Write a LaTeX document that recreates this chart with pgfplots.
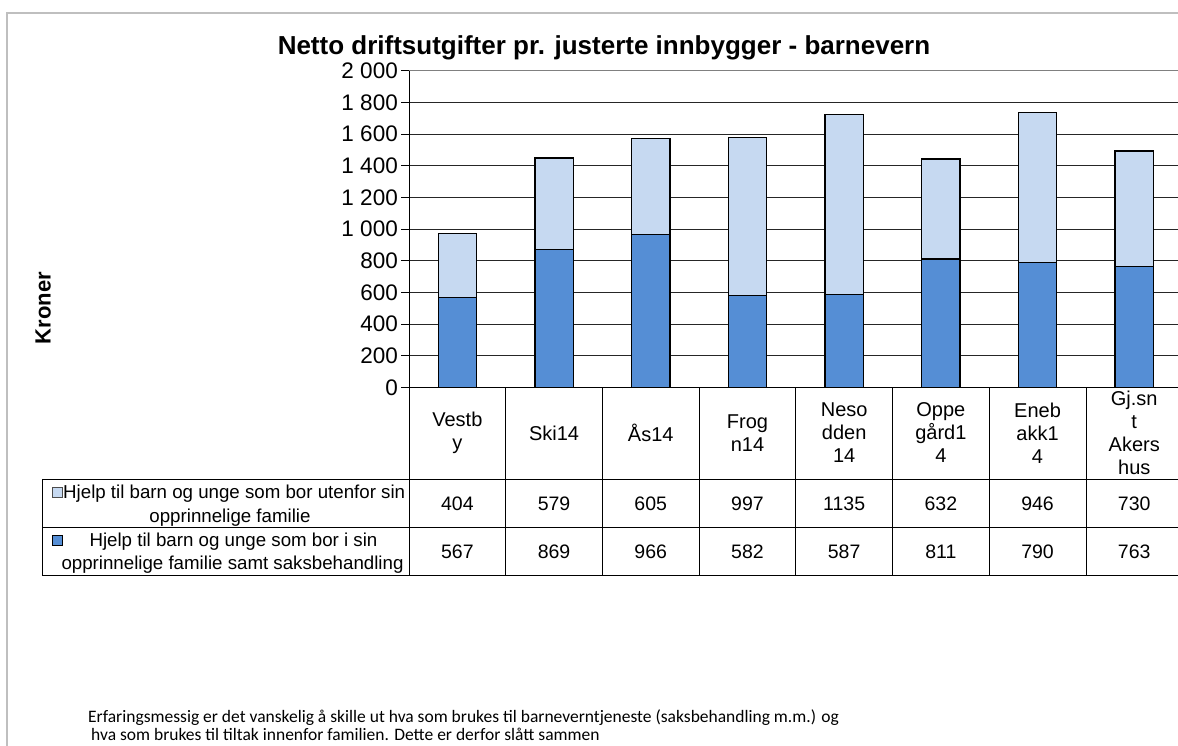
\documentclass[border=0pt]{standalone}
\usepackage{pgfplots}
\pgfplotsset{compat=1.18}
\usepackage{fontspec}
\setmainfont{Liberation Sans}
\newfontfamily\calibri{Carlito}
\definecolor{dblue}{HTML}{558ED5}
\definecolor{lblue}{HTML}{C6D9F1}
\definecolor{framegray}{HTML}{BFBFBF}
\newcommand{\fs}[1]{\fontsize{#1}{#1}\selectfont}
\begin{document}
\begin{tikzpicture}[x=1pt,y=1pt]
% outer frame
\draw[framegray, line width=1.6pt] (7,-20) -- (7,732) -- (1200,732);
% title
\node[anchor=base, font=\bfseries\fs{26}] at (604,690) {Netto driftsutgifter pr. justerte innbygger - barnevern};
% y label
\node[rotate=90, anchor=base, font=\bfseries\fs{22}] at (50.5,437) {Kroner};
\begin{scope}[shift={(409pt,357.7pt)}]
\begin{axis}[
  name=main, at={(0pt,0pt)}, anchor=south west,
  width=773.6pt, height=316.6pt, scale only axis,
  xmin=-0.5, xmax=7.5, ymin=0, ymax=2000,
  ybar stacked, bar width=38.4pt,
  axis x line=bottom, axis y line=left,
  axis line style={-, black, line width=0.8pt},
  xtick=\empty,
  ytick={0,200,...,2000},
  yticklabels={0,200,400,600,800,1 000,1 200,1 400,1 600,1 800,2 000},
  yticklabel style={font=\fs{22.5}, inner xsep=3pt},
  tick align=outside, major tick length=8pt,
  ytick style={black, line width=0.8pt},
  ymajorgrids, grid style={black!85, line width=0.8pt},
  clip=false,
]
\addplot[fill=dblue, draw=black, line width=1.3pt] coordinates {(0,567) (1,869) (2,966) (3,582) (4,587) (5,811) (6,790) (7,763)};
\addplot[fill=lblue, draw=black, line width=1.3pt] coordinates {(0,404) (1,579) (2,605) (3,997) (4,1135) (5,632) (6,946) (7,730)};
\draw[gray, line width=1.4pt] (axis cs:-0.5,2000) -- (axis cs:7.5,2000);
\end{axis}
\end{scope}
% data table
\begin{scope}[black, line width=0.8pt]
\draw (42,266) -- (1200,266);
\draw (42,218) -- (1200,218);
\draw (42,170) -- (1200,170);
\draw (42,266) -- (42,170);
\foreach \k in {0,...,8} \draw ({409+96.7*\k},357.7) -- ({409+96.7*\k},170);
\end{scope}
\foreach \lab [count=\i from 0] in {{Vestb\\y},{Ski14},{Ås14},{Frog\\n14},{Neso\\dden\\14},{Oppe\\gård1\\4},{Eneb\\akk1\\4},{Gj.sn\\t\\Akers\\hus}}
  \node[align=center, font=\fontsize{20}{23}\selectfont] at ({409+96.7*(\i+0.5)},312) {\lab};
\foreach \v [count=\i from 0] in {404,579,605,997,1135,632,946,730}
  \node[font=\fs{19.5}] at ({409+96.7*(\i+0.5)},241) {\v};
\foreach \v [count=\i from 0] in {567,869,966,582,587,811,790,763}
  \node[font=\fs{19.5}] at ({409+96.7*(\i+0.5)},193) {\v};
% legend cells
\draw[fill=lblue, draw=black!70, line width=0.8pt] (52,248) rectangle (62,258);
\node[anchor=base west, font=\fs{18.7}, inner sep=0pt] at (63,246.5) {Hjelp til barn og unge som bor utenfor sin};
\node[anchor=base, font=\fs{18.7}, inner sep=0pt] at (230,222.5) {opprinnelige familie};
\draw[fill=dblue, draw=black, line width=0.8pt] (52,200) rectangle (62,210);
\node[anchor=base, font=\fs{18.7}, inner sep=0pt] at (233.5,198.5) {Hjelp til barn og unge som bor i sin};
\node[anchor=base, font=\fs{18.7}, inner sep=0pt] at (232.5,175.5) {opprinnelige familie samt saksbehandling};
% footnote
\node[anchor=base west, font=\calibri\fs{17.5}, inner sep=0pt] at (88,23) {Erfaringsmessig er det vanskelig å skille ut hva som brukes til barneverntjeneste (saksbehandling m.m.) og};
\node[anchor=base west, font=\calibri\fs{17.5}, inner sep=0pt] at (91,5) {hva som brukes til tiltak innenfor familien. Dette er derfor slått sammen};
\pgfresetboundingbox
\path[use as bounding box] (0,0) rectangle (1178,745);
\end{tikzpicture}
\end{document}
